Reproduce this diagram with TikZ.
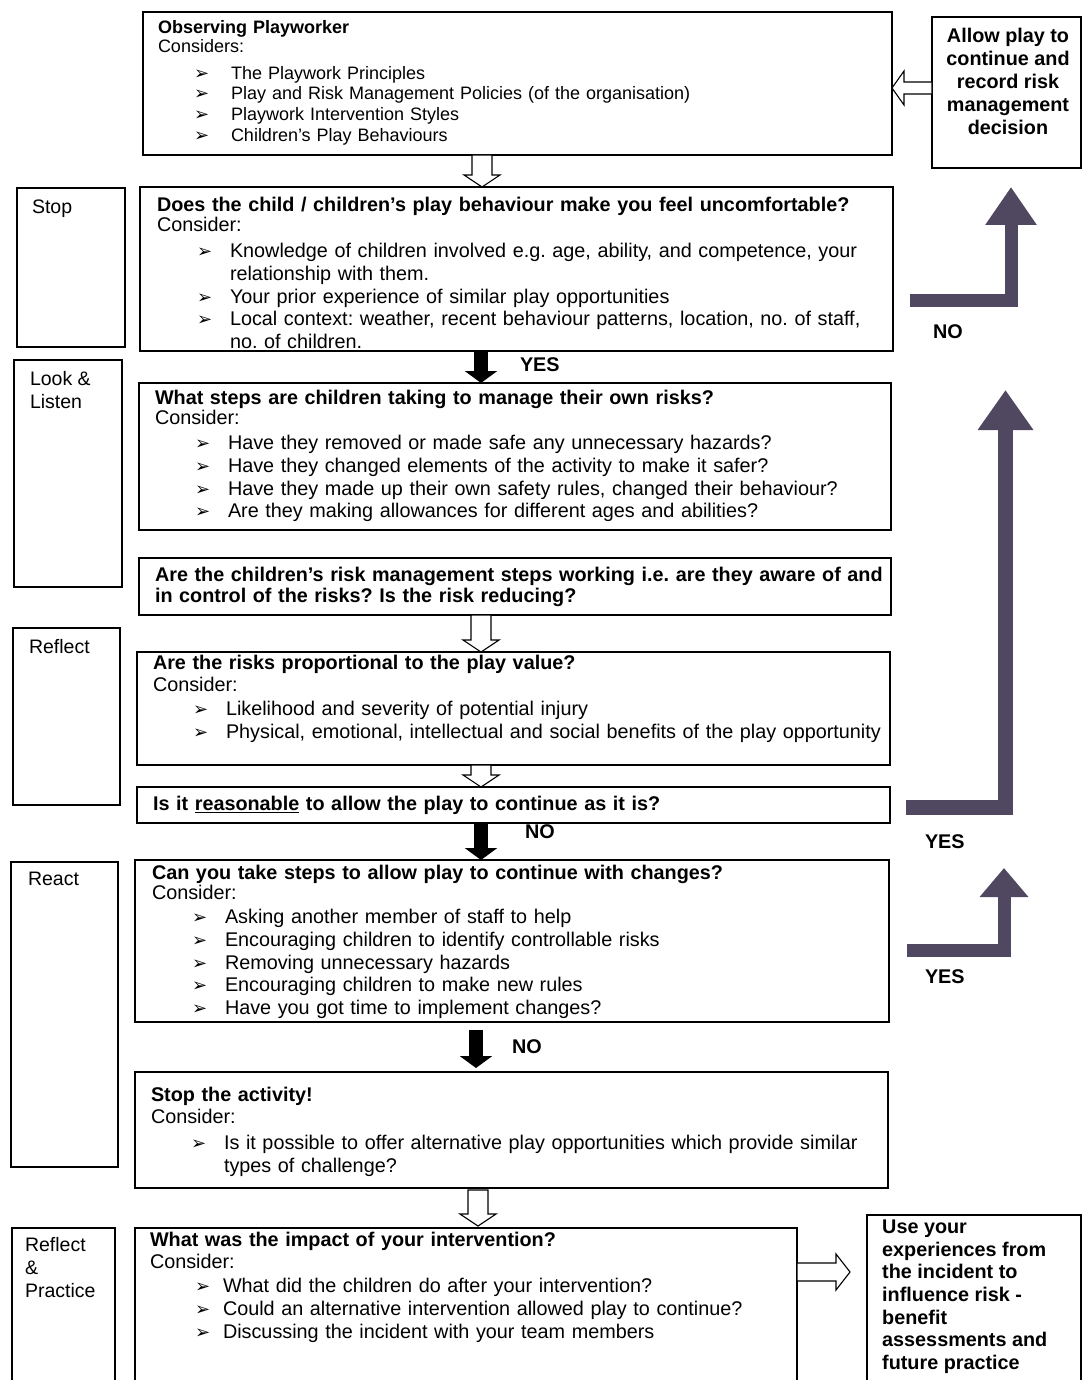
\documentclass[tikz,border=0pt]{standalone}
\usepackage{fontspec}
\setmainfont{Liberation Sans}
\newfontfamily\dejavu{DejaVu Sans}
\usetikzlibrary{calc,arrows.meta}
\definecolor{arrowpurple}{RGB}{80,72,96}
\frenchspacing
\newcommand\bul{{\dejavu\fontsize{18}{18}\selectfont ➢}}
\newcommand\bitem[2][40pt]{\par\hangindent=73pt\hangafter=1\noindent\hbox to 73pt{\hspace{#1}\bul\hfil}#2\par}
% hollow block arrow pointing down: from node, to node, x-coordinate, top gap, bottom gap
\newcommand\hdown[5]{\draw[hollow] ($(#3|-#1.south)+(-10,#4)$) -- ($(#3|-#2.north)+(-10,-12-#5)$) -- ($(#3|-#2.north)+(-18,-12-#5)$) -- ($(#3|-#2.north)+(0,-#5)$) -- ($(#3|-#2.north)+(18,-12-#5)$) -- ($(#3|-#2.north)+(10,-12-#5)$) -- ($(#3|-#1.south)+(10,#4)$) -- cycle;}
\newcommand\sdown[5]{\draw[solidarrow] ($(#3|-#1.south)+(0,#4)$) -- ($(#3|-#2.north)+(0,-#5)$);}
\begin{document}
\begin{tikzpicture}[x=1pt,y=-1pt,
  box/.style={draw=black, line width=1.2pt, anchor=north west, inner sep=0pt, outer sep=0pt},
  txt/.style={anchor=north west, inner sep=0pt, outer sep=0pt, align=left, text width=#1, font=\fontsize{19.8}{22.8}\selectfont},
  txt/.default=740pt,
  side/.style={anchor=north west, inner sep=0pt, outer sep=0pt, align=left, font=\fontsize{19.5}{22.8}\selectfont},
  lbl/.style={anchor=west, inner sep=0pt, outer sep=0pt, font=\bfseries\fontsize{19.8}{22.8}\selectfont},
  hollow/.style={draw=black, line width=1.1pt, fill=white, line join=miter},
  solidarrow/.style={draw=black, line width=14pt, -{Triangle[width=32pt,length=12pt]}},
  parrow/.style={draw=arrowpurple, line join=miter}
]
\useasboundingbox (0,0) rectangle (1083,1380);
\fill[white] (0,0) rectangle (1083,1380);

% ---------- boxes ----------
\node[box, minimum width=749pt, minimum height=143pt] (A) at (143,12) {};
\node[box, minimum width=149pt, minimum height=151pt] (allow) at (932,17) {};
\node[box, minimum width=108pt, minimum height=159pt] (stop) at (17,188) {};
\node[box, minimum width=753pt, minimum height=164pt] (B) at (140,187) {};
\node[box, minimum width=108pt, minimum height=227pt] (look) at (14,360) {};
\node[box, minimum width=752pt, minimum height=147pt] (C) at (139,383) {};
\node[box, minimum width=752pt, minimum height=57pt] (D) at (139,558) {};
\node[box, minimum width=107pt, minimum height=177pt] (refl) at (13,628) {};
\node[box, minimum width=753pt, minimum height=113pt] (E) at (137,652) {};
\node[box, minimum width=753pt, minimum height=36pt] (F) at (137,787) {};
\node[box, minimum width=107pt, minimum height=305pt] (react) at (11,862) {};
\node[box, minimum width=754pt, minimum height=162pt] (G) at (135,860) {};
\node[box, minimum width=753pt, minimum height=116pt] (H) at (135,1072) {};
\node[box, minimum width=103pt, minimum height=170pt] (rp) at (12,1228) {};
\node[box, minimum width=662pt, minimum height=170pt] (I) at (135,1228) {};
\node[box, minimum width=214pt, minimum height=180pt] (J) at (867,1215) {};

% ---------- texts ----------
\node[txt, font=\fontsize{18}{20.7}\selectfont] (tA) at (158,20.2) {\textbf{Observing Playworker}\\[-1.5pt]Considers:\par\vspace{6pt}%
  \bitem[36pt]{The Playwork Principles}%
  \bitem[36pt]{Play and Risk Management Policies (of the organisation)}%
  \bitem[36pt]{Playwork Intervention Styles}%
  \bitem[36pt]{Children’s Play Behaviours}};
\node[anchor=north, inner sep=0pt, align=center, font=\bfseries\fontsize{19.8}{23}\selectfont] (tallow) at (1008,27.5) {Allow play to\\continue and\\record risk\\management\\decision};

\node[side] (tstop) at (32,199.5) {Stop};
\node[txt] (tB) at (157,197.5) {\textbf{Does the child / children’s play behaviour make you feel uncomfortable?}\\[-3pt]Consider:\par\vspace{3pt}%
  \bitem{Knowledge of children involved e.g. age, ability, and competence, your\newline relationship with them.}%
  \bitem{Your prior experience of similar play opportunities}%
  \bitem{Local context: weather, recent behaviour patterns, location, no. of staff,\newline no. of children.}};

\node[side] (tlook) at (30,371.5) {Look \&\\Listen};
\node[txt] (tC) at (155,390.5) {\textbf{What steps are children taking to manage their own risks?}\\[-3pt]Consider:\par\vspace{2pt}%
  \bitem{Have they removed or made safe any unnecessary hazards?}%
  \bitem{Have they changed elements of the activity to make it safer?}%
  \bitem{Have they made up their own safety rules, changed their behaviour?}%
  \bitem{Are they making allowances for different ages and abilities?}};

\node[txt, font=\bfseries\fontsize{19.8}{20.5}\selectfont] (tD) at (155,567.5) {Are the children’s risk management steps working i.e. are they aware of and\\in control of the risks? Is the risk reducing?};

\node[side] (trefl) at (29,639.5) {Reflect};
\node[txt] (tE) at (153,655.5) {\textbf{Are the risks proportional to the play value?}\\[-1pt]Consider:\par\vspace{1pt}%
  \bitem{Likelihood and severity of potential injury}%
  \bitem{Physical, emotional, intellectual and social benefits of the play opportunity}};

\node[txt] (tF) at (153,796.5) {\textbf{Is it \underline{reasonable} to allow the play to continue as it is?}};

\node[side] (treact) at (28,872.5) {React};
\node[txt] (tG) at (152,865.5) {\textbf{Can you take steps to allow play to continue with changes?}\\[-3pt]Consider:\par\vspace{1pt}%
  \bitem{Asking another member of staff to help}%
  \bitem{Encouraging children to identify controllable risks}%
  \bitem{Removing unnecessary hazards}%
  \bitem{Encouraging children to make new rules}%
  \bitem{Have you got time to implement changes?}};

\node[txt] (tH) at (151,1087.5) {\textbf{Stop the activity!}\\[-1pt]Consider:\par\vspace{3pt}%
  \bitem{Is it possible to offer alternative play opportunities which provide similar\newline types of challenge?}};

\node[side] (trp) at (25,1237.5) {Reflect\\\&\\Practice};
\node[txt] (tI) at (150,1232.5) {\textbf{What was the impact of your intervention?}\\[-1pt]Consider:\par\vspace{1pt}%
  \bitem[45pt]{What did the children do after your intervention?}%
  \bitem[45pt]{Could an alternative intervention allowed play to continue?}%
  \bitem[45pt]{Discussing the incident with your team members}};

\node[anchor=north west, inner sep=0pt, align=left, font=\bfseries\fontsize{19.8}{22.7}\selectfont] (tJ) at (882,1219.5) {Use your\\experiences from\\the incident to\\influence risk -\\benefit\\assessments and\\future practice};

% ---------- arrow labels ----------
\node[lbl] (yes1) at (520,365) {YES};
\node[lbl] (no1) at (525,832) {NO};
\node[lbl] (no2) at (512,1047) {NO};
\node[lbl] (noR) at (933,332) {NO};
\node[lbl] (yesR1) at (925,842) {YES};
\node[lbl] (yesR2) at (925,977) {YES};

% ---------- down connectors ----------
\coordinate (xAB) at (482,0);
\coordinate (xBC) at (481,0);
\coordinate (xGH) at (476,0);
\coordinate (xHI) at (478,0);
\hdown{A}{B}{xAB}{0}{0}
\sdown{B}{C}{xBC}{0}{0}
\hdown{D}{E}{xBC}{0}{0}
\hdown{E}{F}{xBC}{0}{0}
\sdown{F}{G}{xBC}{0}{0}
\sdown{G}{H}{xGH}{8}{4}
\hdown{H}{I}{xHI}{2}{2}

% ---------- horizontal hollow connectors ----------
\coordinate (yRA) at (0,88);
\draw[hollow] ($(yRA-|allow.west)+(0,-6)$) -- ($(yRA-|A.east)+(12,-6)$) -- ($(yRA-|A.east)+(12,-17)$) -- (yRA-|A.east) -- ($(yRA-|A.east)+(12,17)$) -- ($(yRA-|A.east)+(12,6)$) -- ($(yRA-|allow.west)+(0,6)$) -- cycle;
\coordinate (yIJ) at (0,1272);
\draw[hollow] ($(yIJ-|I.east)+(0,-9)$) -- ($(yIJ-|J.west)+(-31,-9)$) -- ($(yIJ-|J.west)+(-31,-18)$) -- ($(yIJ-|J.west)+(-17,0)$) -- ($(yIJ-|J.west)+(-31,18)$) -- ($(yIJ-|J.west)+(-31,9)$) -- ($(yIJ-|I.east)+(0,9)$) -- cycle;

% ---------- right-hand thick arrows ----------
\coordinate (p1s) at (910,300);
\coordinate (p1t) at (1011,187);
\draw[parrow, line width=13pt, -{Triangle[width=49pt,length=38pt]}] (p1s) -| (p1t);
\coordinate (p2s) at (906,807);
\coordinate (p2t) at (1005.5,390);
\draw[parrow, line width=15pt, -{Triangle[width=53pt,length=40pt]}] (p2s) -| (p2t);
\coordinate (p3s) at (907,950);
\coordinate (p3t) at (1004,868);
\draw[parrow, line width=13pt, -{Triangle[width=47pt,length=29pt]}] (p3s) -| (p3t);
\end{tikzpicture}
\end{document}
